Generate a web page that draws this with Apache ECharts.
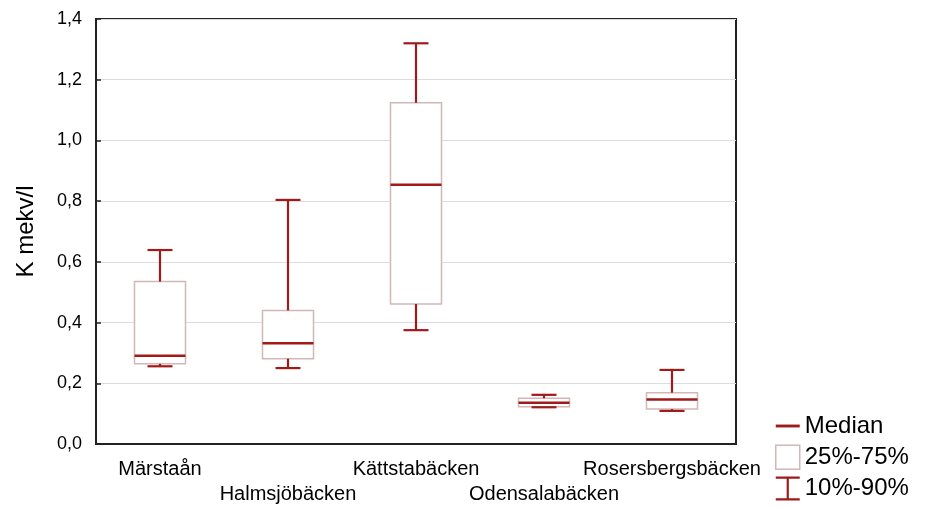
<!DOCTYPE html>
<html>
<head>
<meta charset="utf-8">
<script src="https://cdn.jsdelivr.net/npm/echarts@6/dist/echarts.min.js"></script>
<style>
  html, body { margin: 0; padding: 0; background: #fff; }
  #chart { width: 932px; height: 508px; }
</style>
</head>
<body>
<div id="chart"></div>
<script>
const categories = ['Märstaån', 'Halmsjöbäcken', 'Kättstabäcken', 'Odensalabäcken', 'Rosersbergsbäcken'];
const p10 = [0.256, 0.250, 0.375, 0.121, 0.109];
const q25 = [0.264, 0.281, 0.461, 0.123, 0.115];
const median = [0.291, 0.332, 0.854, 0.136, 0.147];
const q75 = [0.535, 0.440, 1.124, 0.151, 0.169];
const p90 = [0.639, 0.804, 1.320, 0.162, 0.244];
const yTicks = [0, 0.2, 0.4, 0.6, 0.8, 1.0, 1.2, 1.4];

const darkRed = '#a11a1a';
const boxEdge = '#d3b7b7';
const BOX_W = 51;
const CAP_W = 25;

const rows = categories.map((c, i) => [i, p10[i], q25[i], median[i], q75[i], p90[i]]);

function boxRender(params, api) {
  const x = api.value(0);
  const lo = api.coord([x, api.value(2)]);
  const hi = api.coord([x, api.value(4)]);
  return {
    type: 'rect',
    shape: { x: lo[0] - BOX_W / 2, y: hi[1], width: BOX_W, height: lo[1] - hi[1] },
    style: { fill: '#fff', stroke: boxEdge, lineWidth: 1.5 }
  };
}

function whiskerRender(params, api) {
  const x = api.value(0);
  const bot = api.coord([x, api.value(1)]);
  const qlo = api.coord([x, api.value(2)]);
  const qhi = api.coord([x, api.value(4)]);
  const top = api.coord([x, api.value(5)]);
  const st = { stroke: darkRed, lineWidth: 2.2 };
  const cx = top[0];
  return {
    type: 'group',
    children: [
      { type: 'line', shape: { x1: cx, y1: top[1], x2: cx, y2: qhi[1] }, style: st },
      { type: 'line', shape: { x1: cx - CAP_W / 2, y1: top[1], x2: cx + CAP_W / 2, y2: top[1] }, style: st },
      { type: 'line', shape: { x1: cx, y1: bot[1], x2: cx, y2: qlo[1] }, style: st },
      { type: 'line', shape: { x1: cx - CAP_W / 2, y1: bot[1], x2: cx + CAP_W / 2, y2: bot[1] }, style: st }
    ]
  };
}

function medianRender(params, api) {
  const x = api.value(0);
  const m = api.coord([x, api.value(3)]);
  return {
    type: 'line',
    shape: { x1: m[0] - BOX_W / 2, y1: m[1], x2: m[0] + BOX_W / 2, y2: m[1] },
    style: { stroke: darkRed, lineWidth: 2.5 }
  };
}

const chart = echarts.init(document.getElementById('chart'));
chart.setOption({
  animation: false,
  textStyle: { fontFamily: 'Liberation Sans, Arial, sans-serif', color: '#000' },
  grid: {
    left: 96, right: 196, top: 19, bottom: 64,
    show: true, borderColor: '#222', borderWidth: 2, backgroundColor: '#fff'
  },
  legend: {
    orient: 'vertical',
    left: 775,
    top: 414,
    padding: 0,
    height: 94,
    itemWidth: 24,
    itemHeight: 24,
    itemGap: 6.5,
    selectedMode: false,
    textStyle: { fontSize: 24, color: '#000', fontFamily: 'Liberation Sans, Arial, sans-serif' },
    data: [
      { name: 'Median', icon: 'path://M0,0H20V2.4H0Z', itemStyle: { color: darkRed, borderWidth: 0 } },
      { name: '25%-75%', icon: 'rect', itemStyle: { color: '#fff', borderColor: boxEdge, borderWidth: 1.5 } },
      { name: '10%-90%', icon: 'path://M0,0H24V2.2H13.1V21.8H24V24H0V21.8H10.9V2.2H0Z', itemStyle: { color: darkRed, borderWidth: 0 } }
    ]
  },
  xAxis: {
    type: 'category',
    data: categories,
    axisLine: { lineStyle: { color: '#222', width: 2 } },
    axisTick: { inside: true, alignWithLabel: true, length: 5, lineStyle: { color: '#222', width: 1.5 } },
    axisLabel: {
      fontSize: 20,
      color: '#000',
      margin: 13,
      lineHeight: 25,
      interval: 0,
      formatter: (v, i) => (i % 2 === 1 ? '\n' + v : v)
    },
    splitLine: { show: false }
  },
  yAxis: {
    type: 'value',
    min: yTicks[0],
    max: yTicks[yTicks.length - 1],
    interval: 0.2,
    name: 'K mekv/l',
    nameLocation: 'middle',
    nameGap: 58,
    nameTextStyle: { fontSize: 24, color: '#000' },
    axisLine: { show: true, lineStyle: { color: '#222', width: 2 } },
    axisTick: { show: true, inside: true, length: 5, lineStyle: { color: '#222', width: 1.5 } },
    axisLabel: {
      fontSize: 18,
      color: '#000',
      margin: 14,
      formatter: v => v.toFixed(1).replace('.', ',')
    },
    splitLine: { lineStyle: { color: '#dcdcdc', width: 1 } }
  },
  series: [
    { name: '25%-75%', type: 'custom', renderItem: boxRender, data: rows, encode: { x: 0, y: [1, 5] }, z: 2 },
    { name: '10%-90%', type: 'custom', renderItem: whiskerRender, data: rows, encode: { x: 0, y: [1, 5] }, z: 3 },
    { name: 'Median', type: 'custom', renderItem: medianRender, data: rows, encode: { x: 0, y: 3 }, z: 4 }
  ]
});
</script>
</body>
</html>
